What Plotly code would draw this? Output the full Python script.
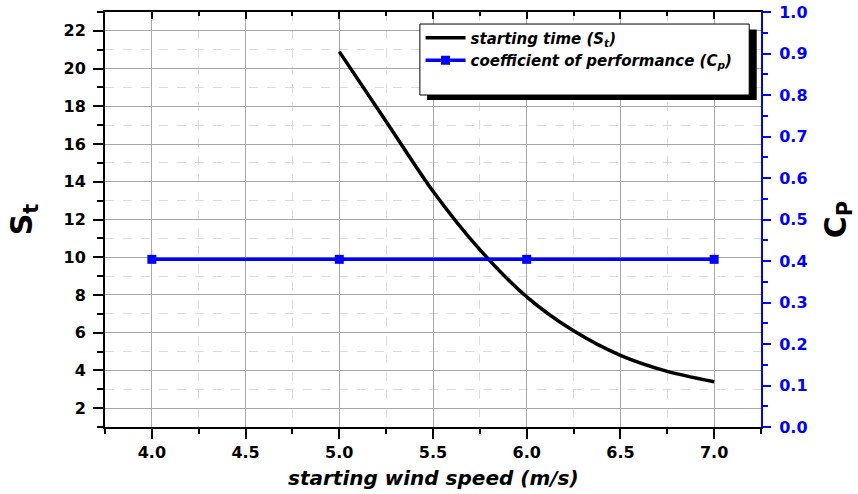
import plotly.graph_objects as go

# Data
wind_st = [5.0, 5.25, 5.5, 5.75, 6.0, 6.25, 6.5, 6.75, 7.0]
starting_time = [20.9, 17.2, 13.5, 10.4, 7.9, 6.1, 4.8, 3.95, 3.4]
wind_cp = [4.0, 5.0, 6.0, 7.0]
cp_values = [0.404, 0.404, 0.404, 0.404]

FONT = "DejaVu Sans, Liberation Sans, Arial, sans-serif"

fig = go.Figure()
fig.add_trace(go.Scatter(
    x=wind_st, y=starting_time, mode="lines",
    line=dict(color="black", width=3.5, shape="spline", smoothing=0.8),
    name="starting time (S<sub>t</sub>)", yaxis="y", xaxis="x"))
fig.add_trace(go.Scatter(
    x=wind_cp, y=cp_values, mode="lines+markers",
    line=dict(color="#0000FF", width=3.5),
    marker=dict(symbol="square", size=9, color="#0000FF"),
    name="coefficient of performance (C<sub>p</sub>)", yaxis="y2", xaxis="x"))
# dummy trace to materialize top axis
fig.add_trace(go.Scatter(x=[None], y=[None], xaxis="x2", yaxis="y",
                         showlegend=False, hoverinfo="skip"))

fig.update_layout(
    width=858, height=494,
    margin=dict(l=105, r=97, t=12, b=67),
    paper_bgcolor="white", plot_bgcolor="white",
    font=dict(family=FONT, color="black"),
    showlegend=True,
    legend=dict(x=0.481, y=0.977, xanchor="left", yanchor="top",
                bgcolor="rgba(0,0,0,0)", borderwidth=0,
                font=dict(family=FONT, size=15, weight="bold", style="italic", color="black"),
                tracegroupgap=2, itemwidth=40),
    xaxis=dict(range=[3.75, 7.25], tick0=4.0, dtick=0.5, tickformat=".1f", automargin=False,
               showline=True, linecolor="black", linewidth=2,
               ticks="outside", ticklen=10, tickwidth=2, tickcolor="black",
               tickfont=dict(family=FONT, size=16, weight="bold", color="black"),
               showgrid=True, gridcolor="#a8a8a8", gridwidth=1,
               minor=dict(dtick=0.25, tick0=4.0, ticks="outside", ticklen=5, tickwidth=1.5,
                          tickcolor="black", showgrid=True, gridcolor="#dcdcdc",
                          griddash="dash", gridwidth=1),
               zeroline=False),
    xaxis2=dict(range=[3.75, 7.25], tick0=4.0, dtick=0.5, overlaying="x", side="top",
                anchor="y", showticklabels=False, showline=True, linecolor="black",
                linewidth=2, ticks="inside", ticklen=7, tickwidth=2, tickcolor="black",
                showgrid=False, zeroline=False, automargin=False,
                minor=dict(dtick=0.25, tick0=4.0, ticks="inside", ticklen=4, tickwidth=1.5,
                           tickcolor="black", showgrid=False)),
    yaxis=dict(range=[1, 23], tick0=2, dtick=2, automargin=False,
               showline=True, linecolor="black", linewidth=2,
               ticks="outside", ticklen=10, tickwidth=2, tickcolor="black",
               ticklabelstandoff=4,
               tickfont=dict(family=FONT, size=16, weight="bold", color="black"),
               showgrid=True, gridcolor="#a8a8a8", gridwidth=1,
               minor=dict(dtick=1, tick0=1, ticks="outside", ticklen=6, tickwidth=1.5,
                          tickcolor="black", showgrid=True, gridcolor="#dcdcdc",
                          griddash="dash", gridwidth=1),
               zeroline=False,
               title=dict(text="S<sub>t</sub>", standoff=22,
                          font=dict(family=FONT, size=30, weight="bold", color="black"))),
    yaxis2=dict(range=[0, 1], dtick=0.1, tickformat=".1f", overlaying="y", side="right",
                anchor="x", showline=True, linecolor="#0000FF", linewidth=2, automargin=False,
                ticks="outside", ticklen=8, tickwidth=2, tickcolor="#0000FF",
                ticklabelstandoff=5,
                tickfont=dict(family=FONT, size=16, weight="bold", color="#0000FF"),
                showgrid=False, zeroline=False,
                minor=dict(dtick=0.05, ticks="outside", ticklen=5, tickwidth=1.5,
                           tickcolor="#0000FF"),
                title=dict(text="C<sub>P</sub>", standoff=18,
                           font=dict(family=FONT, size=30, weight="bold", color="black"))),
)

# x-axis title
fig.add_annotation(text="<i>starting wind speed (m/s)</i>", xref="paper", yref="paper",
                   x=0.5, y=-0.124, xanchor="center", yanchor="middle", showarrow=False,
                   font=dict(family=FONT, size=20, weight="bold", color="black"))

# legend frame with drop shadow
fig.add_shape(type="rect", xref="paper", yref="paper",
              x0=0.491, x1=0.9935, y0=0.788, y1=0.958,
              fillcolor="black", line=dict(width=0), layer="above")
fig.add_shape(type="rect", xref="paper", yref="paper",
              x0=0.480, x1=0.982, y0=0.80, y1=0.971,
              fillcolor="white", line=dict(color="black", width=1), layer="above")

fig.write_html("out.html")
